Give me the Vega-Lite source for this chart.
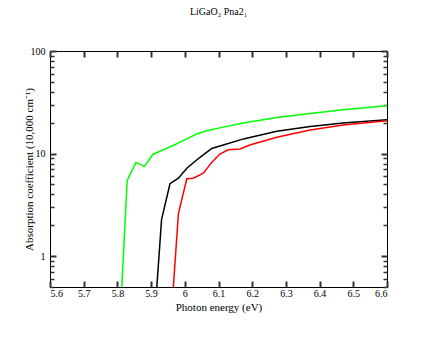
{
  "$schema": "https://vega.github.io/schema/vega-lite/v6.json",
  "width": 337,
  "height": 236,
  "autosize": "none",
  "padding": {"left": 50, "top": 51, "right": 49, "bottom": 50},
  "background": "white",
  "config": {
    "view": {"stroke": "black", "strokeWidth": 1},
    "font": "Liberation Serif",
    "axis": {
      "domain": false,
      "grid": false,
      "ticks": true,
      "tickColor": "#333333",
      "tickWidth": 2,
      "labelFont": "Liberation Serif",
      "labelFontSize": 10,
      "labelColor": "black",
      "titleFont": "Liberation Serif",
      "titleFontSize": 11,
      "titleFontWeight": "normal",
      "titleColor": "black"
    }
  },
  "title": {
    "text": "LiGaO₂ Pna2₁",
    "font": "Liberation Serif",
    "fontSize": 10,
    "fontWeight": "normal",
    "anchor": "middle",
    "offset": 29
  },
  "data": {
    "values": [
      {"s": "green", "e": 5.813, "a": 0.5},
      {"s": "green", "e": 5.829, "a": 5.47},
      {"s": "green", "e": 5.855, "a": 8.2},
      {"s": "green", "e": 5.880, "a": 7.5},
      {"s": "green", "e": 5.905, "a": 9.8},
      {"s": "green", "e": 5.931, "a": 10.7},
      {"s": "green", "e": 5.970, "a": 12.2},
      {"s": "green", "e": 6.006, "a": 13.9},
      {"s": "green", "e": 6.035, "a": 15.5},
      {"s": "green", "e": 6.065, "a": 16.7},
      {"s": "green", "e": 6.104, "a": 17.8},
      {"s": "green", "e": 6.174, "a": 19.9},
      {"s": "green", "e": 6.273, "a": 22.5},
      {"s": "green", "e": 6.372, "a": 24.6},
      {"s": "green", "e": 6.470, "a": 26.7},
      {"s": "green", "e": 6.600, "a": 29.2},
      {"s": "black", "e": 5.917, "a": 0.5},
      {"s": "black", "e": 5.931, "a": 2.27},
      {"s": "black", "e": 5.956, "a": 5.08},
      {"s": "black", "e": 5.981, "a": 5.76},
      {"s": "black", "e": 6.006, "a": 7.2},
      {"s": "black", "e": 6.045, "a": 9.2},
      {"s": "black", "e": 6.080, "a": 11.2},
      {"s": "black", "e": 6.124, "a": 12.4},
      {"s": "black", "e": 6.174, "a": 13.9},
      {"s": "black", "e": 6.273, "a": 16.5},
      {"s": "black", "e": 6.372, "a": 18.4},
      {"s": "black", "e": 6.470, "a": 19.9},
      {"s": "black", "e": 6.600, "a": 21.4},
      {"s": "red", "e": 5.966, "a": 0.5},
      {"s": "red", "e": 5.981, "a": 2.6},
      {"s": "red", "e": 6.006, "a": 5.68},
      {"s": "red", "e": 6.025, "a": 5.75},
      {"s": "red", "e": 6.055, "a": 6.44},
      {"s": "red", "e": 6.080, "a": 8.2},
      {"s": "red", "e": 6.104, "a": 9.9},
      {"s": "red", "e": 6.129, "a": 10.9},
      {"s": "red", "e": 6.164, "a": 11.1},
      {"s": "red", "e": 6.193, "a": 12.1},
      {"s": "red", "e": 6.273, "a": 14.4},
      {"s": "red", "e": 6.372, "a": 17.0},
      {"s": "red", "e": 6.470, "a": 19.0},
      {"s": "red", "e": 6.600, "a": 20.9}
    ]
  },
  "resolve": {"axis": {"x": "independent", "y": "independent"}},
  "layer": [
    {
      "mark": {"type": "line", "strokeWidth": 1.5, "clip": true},
      "encoding": {
        "x": {
          "field": "e", "type": "quantitative",
          "scale": {"domain": [5.6, 6.6], "nice": false, "zero": false},
          "axis": {
            "orient": "bottom",
            "title": "Photon energy (eV)",
            "values": [5.6, 5.7, 5.8, 5.9, 6, 6.1, 6.2, 6.3, 6.4, 6.5, 6.6],
            "format": "~g",
            "ticks": true,
            "offset": -6,
            "tickSize": 6,
            "labelPadding": 1,
            "titlePadding": 3
          }
        },
        "y": {
          "field": "a", "type": "quantitative",
          "scale": {"type": "log", "domain": [0.5, 100], "nice": false},
          "axis": {
            "orient": "left",
            "title": "Absorption coefficient (10,000 cm⁻¹)",
            "values": [1, 10, 100],
            "format": "~g",
            "ticks": true,
            "offset": -6,
            "tickSize": 6,
            "labelPadding": 5,
            "titlePadding": -4
          }
        },
        "color": {
          "field": "s", "type": "nominal",
          "scale": {"domain": ["green", "black", "red"], "range": ["#00ff00", "#000000", "#ff0000"]},
          "legend": null
        },
        "order": {"field": "e", "type": "quantitative"}
      }
    },
    {
      "mark": {"type": "line", "opacity": 0},
      "encoding": {
        "x": {
          "field": "e", "type": "quantitative",
          "axis": {
            "orient": "top",
            "title": null,
            "labels": false,
            "ticks": true,
            "values": [5.6, 5.7, 5.8, 5.9, 6, 6.1, 6.2, 6.3, 6.4, 6.5, 6.6],
            "offset": -6,
            "tickSize": 6
          }
        },
        "y": {
          "field": "a", "type": "quantitative",
          "axis": {
            "orient": "right",
            "title": null,
            "labels": false,
            "ticks": true,
            "values": [1, 10, 100],
            "offset": -6,
            "tickSize": 6
          }
        },
        "detail": {"field": "s", "type": "nominal"}
      }
    },
    {
      "mark": {"type": "line", "opacity": 0},
      "encoding": {
        "x": {"field": "e", "type": "quantitative", "axis": null},
        "y": {
          "field": "a", "type": "quantitative",
          "axis": {
            "orient": "left",
            "title": null,
            "labels": false,
            "ticks": true,
            "values": [0.5, 0.6, 0.7, 0.8, 0.9, 2, 3, 4, 5, 6, 7, 8, 9, 20, 30, 40, 50, 60, 70, 80, 90],
            "offset": -4,
            "tickSize": 4,
            "tickWidth": 1.5
          }
        },
        "detail": {"field": "s", "type": "nominal"}
      }
    },
    {
      "mark": {"type": "line", "opacity": 0},
      "encoding": {
        "x": {"field": "e", "type": "quantitative", "axis": null},
        "y": {
          "field": "a", "type": "quantitative",
          "axis": {
            "orient": "right",
            "title": null,
            "labels": false,
            "ticks": true,
            "values": [0.5, 0.6, 0.7, 0.8, 0.9, 2, 3, 4, 5, 6, 7, 8, 9, 20, 30, 40, 50, 60, 70, 80, 90],
            "offset": -4,
            "tickSize": 4,
            "tickWidth": 1.5
          }
        },
        "detail": {"field": "s", "type": "nominal"}
      }
    }
  ]
}
